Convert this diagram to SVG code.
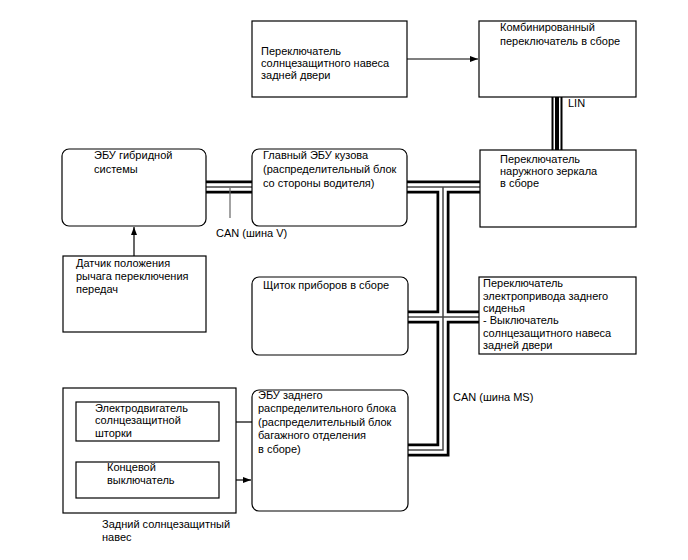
<svg xmlns="http://www.w3.org/2000/svg" width="688" height="560" viewBox="0 0 688 560">
<defs>
<marker id="ah" markerUnits="userSpaceOnUse" markerWidth="9" markerHeight="7" refX="8" refY="3" orient="auto">
<path d="M0,0 L8,3 L0,6 z" fill="#000"/>
</marker>
<style>
.box{fill:#fff;stroke:#000;stroke-width:1.2}
text{font-family:"Liberation Sans",Arial,sans-serif;font-size:11px;fill:#000}
.arr{fill:none;stroke:#000;stroke-width:1.2;marker-end:url(#ah)}
.busb{fill:none;stroke:#000;stroke-width:13}
.busw{fill:none;stroke:#fff;stroke-width:7.5}
.busm{fill:none;stroke:#444;stroke-width:1.5}
</style>
</defs>
<rect width="688" height="560" fill="#fff"/>

<g id="connectors">
<g id="can-bus">
<path class="busb" d="M206,187 H252 M407,187 H480 M443,187 V450 H408 M408,317 H480"/>
<path class="busw" d="M206,187 H252 M407,187 H480 M443,187 V450 H408 M408,317 H480"/>
<path class="busm" d="M206,187 H252 M407,187 H480 M443,187 V450 H408 M408,317 H480"/>
</g>
<g id="lin-bus">
<path d="M557,97 V150" stroke="#000" stroke-width="11" fill="none"/>
<path d="M557,97 V150" stroke="#fff" stroke-width="7" fill="none"/>
<path d="M557,97 V150" stroke="#000" stroke-width="4" fill="none"/>
</g>
<path class="arr" d="M407,59 H478"/>
<path class="arr" d="M134,256 V227"/>
<path class="arr" d="M252,422 H220"/>
<path class="arr" d="M219,480 H251"/>
<path d="M230,188 V218" stroke="#666" stroke-width="1.2" fill="none"/>
<text x="216" y="237">CAN (шина V)</text>
<text x="568" y="107">LIN</text>
<text x="453" y="401">CAN (шина MS)</text>
</g>

<g id="rear-door-switch">
<rect class="box" x="252" y="21" width="155" height="76"/>
<text x="261" y="55">Переключатель</text>
<text x="261" y="67">солнцезащитного навеса</text>
<text x="261" y="79">задней двери</text>
</g>

<g id="combo-switch">
<rect class="box" x="479" y="21" width="157" height="76"/>
<text x="500" y="31">Комбинированный</text>
<text x="500" y="45">переключатель в сборе</text>
</g>

<g id="mirror-switch">
<rect class="box" x="480" y="150" width="156" height="77"/>
<text x="500" y="163">Переключатель</text>
<text x="500" y="175">наружного зеркала</text>
<text x="500" y="187">в сборе</text>
</g>

<g id="hybrid-ecu">
<rect class="box" x="62" y="149" width="144" height="77" rx="7"/>
<text x="94" y="159">ЭБУ гибридной</text>
<text x="94" y="173">системы</text>
</g>

<g id="main-body-ecu">
<rect class="box" x="252" y="149" width="155" height="77" rx="7"/>
<text x="263" y="159">Главный ЭБУ кузова</text>
<text x="263" y="173">(распределительный блок</text>
<text x="263" y="187">со стороны водителя)</text>
</g>

<g id="shift-sensor">
<rect class="box" x="63" y="256" width="143" height="76"/>
<text x="76" y="267">Датчик положения</text>
<text x="76" y="280">рычага переключения</text>
<text x="76" y="293">передач</text>
</g>

<g id="combination-meter">
<rect class="box" x="252" y="277" width="156" height="78" rx="7"/>
<text x="263" y="289">Щиток приборов в сборе</text>
</g>

<g id="rear-seat-switch">
<rect class="box" x="479" y="277" width="157" height="77"/>
<text x="483" y="287">Переключатель</text>
<text x="483" y="300">электропривода заднего</text>
<text x="483" y="312">сиденья</text>
<text x="483" y="324">- Выключатель</text>
<text x="483" y="337">солнцезащитного навеса</text>
<text x="483" y="349">задней двери</text>
</g>

<g id="rear-shade">
<rect class="box" x="63" y="388" width="173" height="125"/>
<text x="102" y="528">Задний солнцезащитный</text>
<text x="102" y="541">навес</text>
</g>

<g id="shade-motor">
<rect class="box" x="76" y="402" width="143" height="39"/>
<text x="95" y="412">Электродвигатель</text>
<text x="95" y="424">солнцезащитной</text>
<text x="95" y="437">шторки</text>
</g>

<g id="limit-switch">
<rect class="box" x="76" y="462" width="143" height="36"/>
<text x="107" y="471">Концевой</text>
<text x="107" y="484">выключатель</text>
</g>

<g id="rear-ecu">
<rect class="box" x="252" y="390" width="156" height="121" rx="7"/>
<text x="258" y="399">ЭБУ заднего</text>
<text x="258" y="412">распределительного блока</text>
<text x="258" y="426">(распределительный блок</text>
<text x="258" y="439">багажного отделения</text>
<text x="258" y="453">в сборе)</text>
</g>
</svg>
